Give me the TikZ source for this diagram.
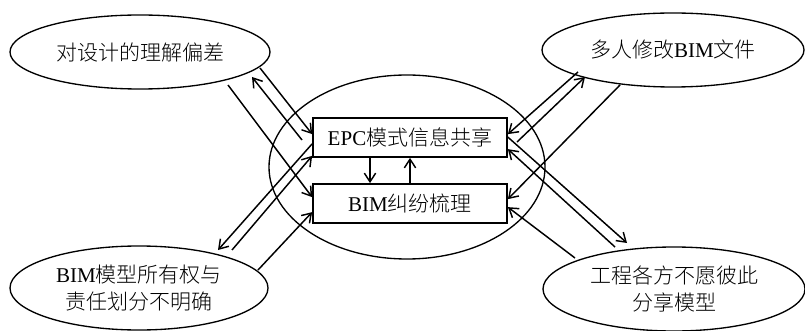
\documentclass[tikz,border=0pt]{standalone}
\usepackage{fontspec}
\setmainfont{Liberation Serif}
\newfontfamily\cjk{Noto Sans CJK SC}[UprightFont={* Light}]
\usetikzlibrary{shapes.geometric,arrows.meta}
\tikzset{
  oval/.style={draw,ellipse,line width=1pt,inner sep=0pt,align=center,
    font=\fontsize{15.75}{20}\selectfont},
  box/.style={draw,rectangle,line width=1.3pt,inner sep=0pt,
    minimum width=145.5pt,minimum height=29.25pt,
    font=\fontsize{15.75}{20}\selectfont},
  arr/.style={line width=1.1pt,-{Straight Barb[length=6.5pt,width=8.5pt,line width=1.1pt]}}
}
\begin{document}
\begin{tikzpicture}[x=0.75pt,y=-0.75pt]
\useasboundingbox (0,0) rectangle (805,331);
% center ellipse
\node[draw,ellipse,line width=1pt,minimum width=207pt,minimum height=138pt] (mid) at (407,167) {};
% outer ellipses
\node[oval,minimum width=195pt,minimum height=55.5pt] (tl) at (140,52) {\cjk 对设计的理解偏差};
\node[oval,minimum width=196.5pt,minimum height=55.5pt] (tr) at (673,50) {{\cjk 多人修改}BIM{\cjk 文件}};
\node[oval,minimum width=193.5pt,minimum height=63pt] (bl) at (139,288) {BIM{\cjk 模型所有权与}\\{\cjk 责任划分不明确}};
\node[oval,minimum width=196.5pt,minimum height=63pt] (br) at (674,289) {{\cjk 工程各方不愿彼此}\\{\cjk 分享模型}};
% boxes
\node[box] (epc) at (410,137.5) {EPC{\cjk 模式信息共享}};
\node[box] (bim) at (410,203.5) {BIM{\cjk 纠纷梳理}};
% free ends near outer ellipses
\coordinate (a0) at (302,140);
\coordinate (a1) at (252,77);
\coordinate (b0) at (260,68);
\coordinate (c0) at (228,85);
\coordinate (d1) at (218,250);
\coordinate (e0) at (232,250);
\coordinate (f0) at (258,270);
\coordinate (g0) at (578,72);
\coordinate (h0) at (517,142);
\coordinate (h1) at (585,77);
\coordinate (i0) at (620,85);
\coordinate (j1) at (627,243);
\coordinate (k0) at (615,247);
\coordinate (l0) at (575,258);
% vertical arrows between boxes
\draw[arr] ([xshift=-30pt]epc.south) -- ([xshift=-30pt]bim.north);
\draw[arr] (bim.north) -- (epc.south);
% top-left
\draw[arr] (a0) -- (a1);
\draw[arr] (b0) -- ([yshift=-12.75pt]epc.north west);
\draw[arr] (c0) -- ([yshift=-10.5pt]bim.north west);
% bottom-left
\draw[arr] ([yshift=10.5pt]epc.south west) -- (d1);
\draw[arr] (e0) -- ([yshift=1.5pt]epc.south west);
\draw[arr] (f0) -- ([yshift=-21.75pt]bim.north west);
% top-right
\draw[arr] (g0) -- ([yshift=-12.75pt]epc.north east);
\draw[arr] (h0) -- (h1);
\draw[arr] (i0) -- ([yshift=-12pt]bim.north east);
% bottom-right
\draw[arr] ([yshift=-15pt]epc.north east) -- (j1);
\draw[arr] (k0) -- ([yshift=-24pt]epc.north east);
\draw[arr] (l0) -- ([yshift=-18pt]bim.north east);
\end{tikzpicture}
\end{document}
